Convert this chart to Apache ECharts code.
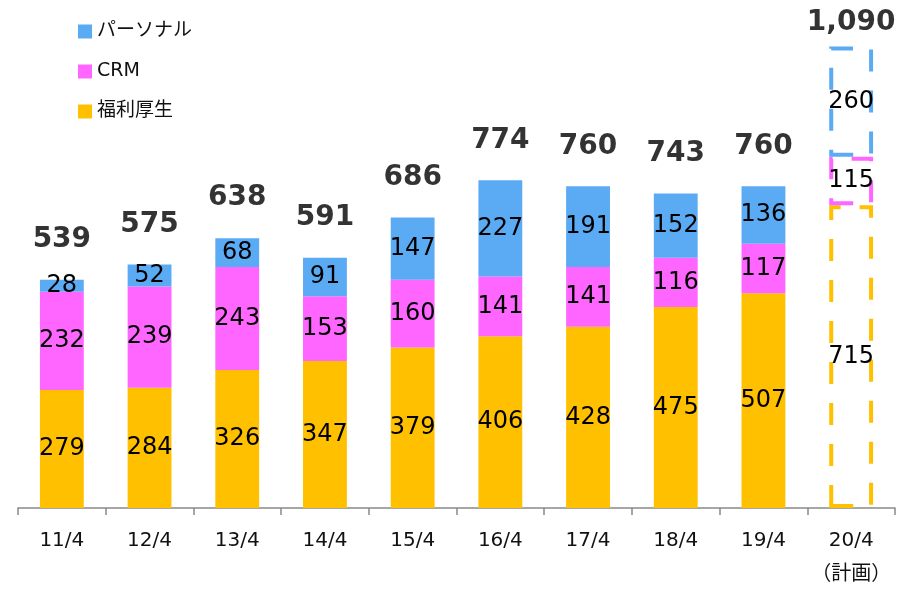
<!DOCTYPE html>
<html>
<head>
<meta charset="utf-8">
<script src="https://cdn.jsdelivr.net/npm/echarts@6/dist/echarts.min.js"></script>
<style>
  html, body { margin: 0; padding: 0; background: #fff; }
  #chart { width: 898px; height: 591px; }
</style>
</head>
<body>
<div id="chart"></div>
<script>
// 年度（最後は計画値）
const categories = ['11/4', '12/4', '13/4', '14/4', '15/4', '16/4', '17/4', '18/4', '19/4', '20/4\n（計画）'];
const welfare = [279, 284, 326, 347, 379, 406, 428, 475, 507, 715];
const crm = [232, 239, 243, 153, 160, 141, 141, 116, 117, 115];
const personal = [28, 52, 68, 91, 147, 227, 191, 152, 136, 260];
const totals = [539, 575, 638, 591, 686, 774, 760, 743, 760, 1090];

const COLORS = { welfare: '#FFC000', crm: '#FF66FF', personal: '#5BABF4' };
const FONT = 'DejaVu Sans, Noto Sans CJK JP, sans-serif';
const planIndex = categories.length - 1;

const chart = echarts.init(document.getElementById('chart'));

// 計画値は枠線（破線）だけで描く
function buildData(values, color) {
  return values.map((v, i) => {
    if (i !== planIndex) return v;
    return {
      value: v,
      itemStyle: {
        color: 'rgba(0,0,0,0)',
        borderColor: color,
        borderWidth: 4,
        borderType: [22, 19]
      }
    };
  });
}

function segment(name, values, color) {
  return {
    name: name,
    type: 'bar',
    stack: 'total',
    barWidth: '50%',
    itemStyle: { color: color },
    label: {
      show: true,
      position: 'inside',
      color: '#000',
      fontSize: 24,
      fontFamily: FONT
    },
    data: buildData(values, color)
  };
}

chart.setOption({
  animation: false,
  textStyle: { fontFamily: FONT },
  legend: {
    orient: 'vertical',
    left: 73,
    top: 17,
    itemWidth: 14,
    itemHeight: 14,
    itemGap: 21,
    icon: 'rect',
    textStyle: { fontSize: 19, color: '#111', fontFamily: FONT },
    data: ['パーソナル', 'CRM', '福利厚生']
  },
  grid: { left: 18, right: 3, top: 0, bottom: 83, containLabel: false, outerBoundsMode: 'none' },
  xAxis: {
    type: 'category',
    data: categories,
    axisLine: { lineStyle: { color: '#898989', width: 1.5 } },
    axisTick: { show: true, interval: 0, length: 7, lineStyle: { color: '#898989', width: 1.5 } },
    axisLabel: {
      interval: 0,
      color: '#111',
      fontSize: 20,
      margin: 16,
      lineHeight: 34,
      fontFamily: FONT
    }
  },
  yAxis: { type: 'value', min: 0, max: 1200, show: false },
  series: [
    segment('福利厚生', welfare, COLORS.welfare),
    segment('CRM', crm, COLORS.crm),
    segment('パーソナル', personal, COLORS.personal),
    {
      name: '合計',
      type: 'scatter',
      symbolSize: 0,
      silent: true,
      label: {
        show: true,
        position: 'top',
        distance: 26,
        color: '#000',
        fontSize: 28,
        fontWeight: 'bold',
        fontFamily: FONT,
        formatter: p => p.value.toLocaleString('en-US')
      },
      data: totals.map((v, i) => i === planIndex ? { value: v, label: { distance: 10 } } : v)
    }
  ]
});
</script>
</body>
</html>
